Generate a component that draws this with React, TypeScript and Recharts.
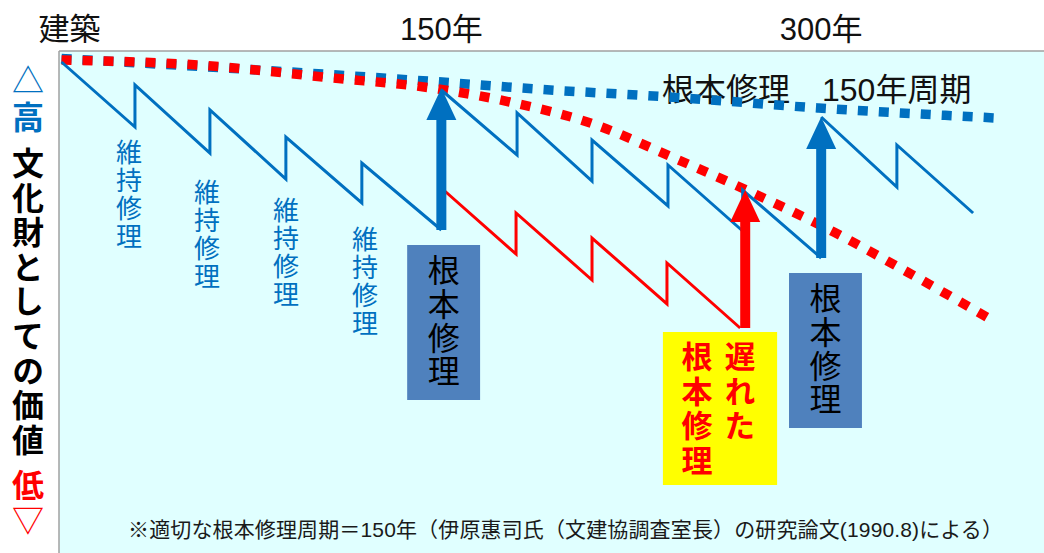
import React from 'react';
import {
  ComposedChart,
  Line,
  Scatter,
  XAxis,
  YAxis,
  CartesianGrid,
  ReferenceArea,
  Customized,
} from 'recharts';

// x = years since construction, y = cultural value (relative)
const xTicks = [0, 150, 300];
const xTickLabels = ['建築', '150年', '300年'];

// 根本修理 150年周期 (ideal envelope)
const idealCurve = [
  { x: 0, y: 100.3 },
  { x: 147, y: 95.7 },
  { x: 190, y: 94.1 },
  { x: 240, y: 92.6 },
  { x: 299, y: 90.4 },
  { x: 369, y: 88.4 },
];

// envelope when the major repair is delayed
const delayedCurve = [
  { x: 0, y: 100 },
  { x: 54, y: 99 },
  { x: 107, y: 96.4 },
  { x: 146, y: 94.4 },
  { x: 177, y: 91.6 },
  { x: 210, y: 87.2 },
  { x: 241, y: 80.6 },
  { x: 273, y: 73.4 },
  { x: 305, y: 65.6 },
  { x: 334, y: 57.6 },
  { x: 366, y: 48.4 },
];

// 維持修理 saw teeth, first cycle
const blueCycle1 = [
  { x: 0, y: 99.6 },
  { x: 29, y: 86.6 },
  { x: 29, y: 95 },
  { x: 58.6, y: 81.4 },
  { x: 58.6, y: 90 },
  { x: 88.6, y: 76.2 },
  { x: 88.6, y: 84.6 },
  { x: 118.6, y: 71.4 },
  { x: 118.6, y: 79.4 },
  { x: 150, y: 66 },
];

const blueCycle2 = [
  { x: 150, y: 94 },
  { x: 179.9, y: 81 },
  { x: 179.9, y: 89.4 },
  { x: 209.5, y: 75.8 },
  { x: 209.5, y: 84 },
  { x: 239.5, y: 70.8 },
  { x: 239.5, y: 79 },
  { x: 269, y: 65.8 },
  { x: 269, y: 74 },
  { x: 300, y: 60.4 },
];

const blueCycle3 = [
  { x: 300, y: 88.6 },
  { x: 329.9, y: 74.6 },
  { x: 329.9, y: 83 },
  { x: 360, y: 69.4 },
];

// missed major repair
const redCycle = [
  { x: 150, y: 74.4 },
  { x: 179.5, y: 61.2 },
  { x: 179.5, y: 69.4 },
  { x: 209.5, y: 56 },
  { x: 209.5, y: 64.4 },
  { x: 239.1, y: 51.2 },
  { x: 239.1, y: 59.4 },
  { x: 268, y: 46.4 },
];

// 根本修理 arrows: year, from, to
const arrowYears = [150, 300, 270];
const arrowFrom = [66, 60.4, 46.4];
const arrowTo = [94.4, 88.6, 74];
const arrowColors = ['#0070C0', '#0070C0', '#FF0000'];

const FONT = "'Liberation Sans', 'Noto Sans CJK JP', sans-serif";
const CJK = "'Noto Sans CJK JP', sans-serif";
const BLUE = '#0070C0';
const RED = '#FF0000';

// vertical column of text: x = column centre, y = top of first glyph box
const VText = ({ chars, x, y, step, size, fill, weight = 'normal' }: any) => (
  <text
    x={x}
    y={y}
    fontFamily={CJK}
    fontSize={size}
    fill={fill}
    fontWeight={weight}
    style={{ writingMode: 'vertical-rl', letterSpacing: `${step - size}px` }}
  >
    {chars}
  </text>
);

const TopTick = (props: any) => {
  const { x, payload } = props;
  const i = xTicks.indexOf(payload.value);
  return (
    <text x={x + (i === 0 ? 8 : 0)} y={40} textAnchor="middle" fontFamily={FONT} fontSize={31} fill="#111">
      {xTickLabels[i]}
    </text>
  );
};

const arrowHead = (color: string) => (p: any) => (
  <polygon
    points={`${p.cx},${p.cy} ${p.cx - 15},${p.cy + 32} ${p.cx + 15},${p.cy + 32}`}
    fill={color}
  />
);

const boxLabel = (chars: string) => (p: any) => {
  const vb = p.viewBox;
  return <VText chars={chars} x={vb.x + vb.width / 2} y={vb.y + 9} step={33.7} size={32} fill="#000" />;
};

const delayedLabel = (p: any) => {
  const vb = p.viewBox;
  const cx = vb.x + vb.width / 2;
  return (
    <g>
      <VText chars="遅れた" x={cx + 20} y={vb.y + 9} step={34.5} size={31} fill={RED} weight="bold" />
      <VText chars="根本修理" x={cx - 23} y={vb.y + 9} step={34.5} size={31} fill={RED} weight="bold" />
    </g>
  );
};

const maintLabels = [
  { x: 129, top: 139 },
  { x: 207, top: 179 },
  { x: 286, top: 197 },
  { x: 365, top: 226 },
];

const Overlay = () => (
  <g>
    <text
      x={28}
      y={64}
      fontFamily={CJK}
      fontSize={32}
      fontWeight="bold"
      style={{ writingMode: 'vertical-rl', letterSpacing: '2.6px' }}
    >
      <tspan fill={BLUE} fontWeight="normal">△</tspan>
      <tspan fill={BLUE} dy={1.4}>高</tspan>
      <tspan fill="#000" dy={12.4}>文化財としての価値</tspan>
      <tspan fill={RED} dy={10.4}>低</tspan>
      <tspan fill={RED} fontWeight="normal" dy={0.4}>▽</tspan>
    </text>
    {maintLabels.map((m, i) => (
      <VText key={i} chars="維持修理" x={m.x} y={m.top} step={28} size={26} fill={BLUE} />
    ))}
    <text x={662} y={101} fontFamily={FONT} fontSize={32} fill="#111">
      根本修理　150年周期
    </text>
    <text x={128} y={537} fontFamily={FONT} fontSize={21} fill="#1a1a1a" textLength={875}>
      ※適切な根本修理周期＝150年（伊原惠司氏（文建協調査室長）の研究論文(1990.8)による）
    </text>
  </g>
);

export default function App() {
  return (
    <div style={{ position: 'absolute', left: 0, top: 0, background: '#fff' }}>
      <ComposedChart width={1044} height={553} margin={{ top: 0, right: 0, bottom: 0, left: 0 }}>
        <CartesianGrid horizontal={false} vertical={false} fill="#E0FFFF" fillOpacity={1} />
        <XAxis
          type="number"
          dataKey="x"
          orientation="top"
          height={51}
          domain={[-1, 388]}
          ticks={xTicks}
          interval={0}
          tick={<TopTick />}
          tickLine={false}
          axisLine={{ stroke: '#a0a0a0', strokeWidth: 1.5 }}
        />
        <YAxis
          type="number"
          dataKey="y"
          width={59}
          domain={[1.4, 101.8]}
          tick={false}
          tickLine={false}
          axisLine={{ stroke: '#a0a0a0', strokeWidth: 1.5 }}
        />
        <ReferenceArea x1={136.5} x2={165.3} y1={32} y2={63} fill="#4F81BD" fillOpacity={1} label={boxLabel('根本修理')} />
        <ReferenceArea x1={287.3} x2={316.1} y1={26.4} y2={57.4} fill="#4F81BD" fillOpacity={1} label={boxLabel('根本修理')} />
        <ReferenceArea x1={237.5} x2={282.6} y1={15} y2={45.6} fill="#FFFF00" fillOpacity={1} label={delayedLabel} />

        <Line data={idealCurve} dataKey="y" type="monotone" stroke={BLUE} strokeWidth={9.5} strokeDasharray="10 11" dot={false} isAnimationActive={false} />
        <Line data={delayedCurve} dataKey="y" type="monotone" stroke={RED} strokeWidth={9.5} strokeDasharray="10 11" dot={false} isAnimationActive={false} />

        <Line data={blueCycle1} dataKey="y" type="linear" stroke={BLUE} strokeWidth={3} dot={false} isAnimationActive={false} />
        <Line data={blueCycle2} dataKey="y" type="linear" stroke={BLUE} strokeWidth={3} dot={false} isAnimationActive={false} />
        <Line data={blueCycle3} dataKey="y" type="linear" stroke={BLUE} strokeWidth={3} dot={false} isAnimationActive={false} />
        <Line data={redCycle} dataKey="y" type="linear" stroke={RED} strokeWidth={3} dot={false} isAnimationActive={false} />

        {arrowYears.map((yr, i) => (
          <Line
            key={`shaft-${i}`}
            data={[
              { x: yr, y: arrowFrom[i] },
              { x: yr, y: arrowTo[i] - 6 },
            ]}
            dataKey="y"
            type="linear"
            stroke={arrowColors[i]}
            strokeWidth={10}
            dot={false}
            isAnimationActive={false}
          />
        ))}
        {arrowYears.map((yr, i) => (
          <Scatter
            key={`head-${i}`}
            data={[{ x: yr, y: arrowTo[i] }]}
            shape={arrowHead(arrowColors[i])}
            isAnimationActive={false}
          />
        ))}
        <Customized component={Overlay} />
      </ComposedChart>
    </div>
  );
}
